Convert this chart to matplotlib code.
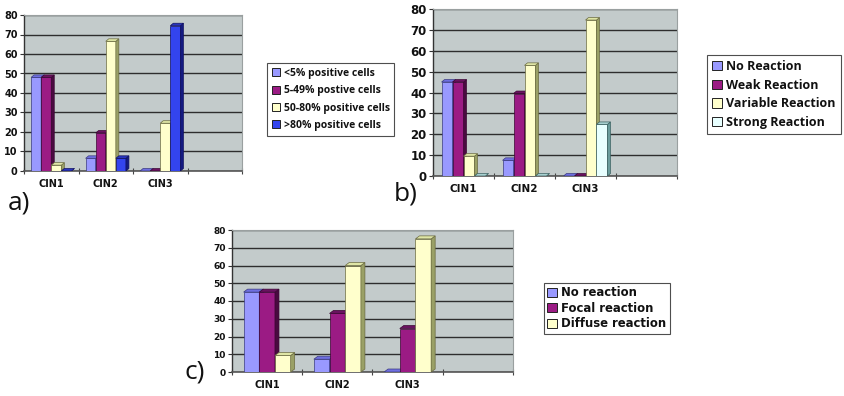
import matplotlib
matplotlib.use('Agg')
import matplotlib.pyplot as plt
from matplotlib.patches import Polygon, Rectangle, Patch

# ---------------- data ----------------
categories = ['CIN1', 'CIN2', 'CIN3']
y_ticks = [0, 10, 20, 30, 40, 50, 60, 70, 80]

a_labels = ['<5% positive cells', '5-49% postive cells', '50-80% positive cells', '>80% positive cells']
a_s1 = [48, 6.5, 0]
a_s2 = [48, 19.5, 0]
a_s3 = [3, 66.5, 24.5]
a_s4 = [0, 6.5, 74.5]

b_labels = ['No Reaction', 'Weak Reaction', 'Variable Reaction', 'Strong Reaction']
b_s1 = [45, 7.5, 0]
b_s2 = [45, 39.5, 0]
b_s3 = [9.5, 53, 74.7]
b_s4 = [0, 0, 24.7]

c_labels = ['No reaction', 'Focal reaction', 'Diffuse reaction']
c_s1 = [45, 7.2, 0]
c_s2 = [45, 33, 24.5]
c_s3 = [9.3, 60, 75]

# ---------------- styling ----------------
W, H = 845, 396
fig = plt.figure(figsize=(W / 100, H / 100), dpi=100)
fig.patch.set_facecolor('white')

WALL = '#c3cbcb'
# (front, side, top, edge)
C_PURPLE = ('#9999ff', '#6060b8', '#6f6fe0', '#3a3a80')
C_MAROON = ('#9b1b84', '#4a0a40', '#6a1260', '#3a0632')
C_YELLOW = ('#ffffcc', '#9aa066', '#dfe6a6', '#6a6a40')
C_BLUE = ('#3344ee', '#141a80', '#2a36c0', '#101060')
C_CYAN = ('#e8ffff', '#6a9c9c', '#a8d0d0', '#3a6060')


def panel(rect_px, series, colors, group_frac, dpx, dpy, tick_fs, cat_fs):
    L, T, R, B = rect_px
    ax = fig.add_axes([L / W, (H - B) / H, (R - L) / W, (B - T) / H])
    nslots = 4
    ax.set_xlim(0, nslots)
    ax.set_ylim(0, 80)
    ax.set_facecolor(WALL)
    xpp = nslots / (R - L)
    ypp = 80 / (B - T)
    dx, dy = dpx * xpp, dpy * ypp
    n = len(series)
    bw = group_frac / n
    z = 3.0
    for i in range(len(categories)):
        for s in range(n):
            h = series[s][i]
            fc, sc, tc, ec = colors[s]
            x0 = i + 0.5 - group_frac / 2 + s * bw
            ax.add_patch(Rectangle((x0, 0), bw, h, facecolor=fc, edgecolor=ec,
                                   lw=0.5, zorder=z))
            ax.add_patch(Polygon([(x0 + bw, 0), (x0 + bw + dx, dy),
                                  (x0 + bw + dx, h + dy), (x0 + bw, h)],
                                 closed=True, facecolor=sc, edgecolor=ec,
                                 lw=0.5, zorder=z))
            ax.add_patch(Polygon([(x0, h), (x0 + dx, h + dy),
                                  (x0 + bw + dx, h + dy), (x0 + bw, h)],
                                 closed=True, facecolor=tc, edgecolor=ec,
                                 lw=0.5, zorder=z))
            z += 0.01
    ax.set_yticks(y_ticks)
    ax.set_yticklabels([str(v) for v in y_ticks], fontsize=tick_fs,
                       fontweight='bold', family='DejaVu Sans', color='#111111')
    ax.grid(axis='y', color='#2e2e2e', lw=1.0, zorder=1)
    ax.set_axisbelow(True)
    ax.set_xticks(range(nslots + 1))
    ax.set_xticklabels([])
    ax.set_xticks([i + 0.5 for i in range(len(categories))], minor=True)
    ax.set_xticklabels(categories, minor=True, fontsize=cat_fs,
                       fontweight='bold', family='DejaVu Sans', color='#111111')
    ax.tick_params(axis='x', which='major', direction='inout', length=5,
                   width=0.8, color='#444444')
    ax.tick_params(axis='x', which='minor', length=0, pad=6)
    ax.tick_params(axis='y', direction='out', length=3, width=0.8,
                   color='#333333', pad=1.5)
    ax.spines['left'].set_color('#333333')
    ax.spines['left'].set_linewidth(1.0)
    ax.spines['bottom'].set_color('#555555')
    ax.spines['bottom'].set_linewidth(1.2)
    for sp in ('top', 'right'):
        ax.spines[sp].set_color('#9aa0a0')
        ax.spines[sp].set_linewidth(0.8)
    return ax


def legend(labels, colors, anchor_px, fs, family, spacing, bpad=0.5):
    handles = [Patch(facecolor=c[0], edgecolor='#222222', lw=0.7) for c in colors]
    lg = fig.legend(handles, labels, loc='upper left',
                    bbox_to_anchor=(anchor_px[0] / W, 1 - anchor_px[1] / H),
                    bbox_transform=fig.transFigure, borderaxespad=0,
                    frameon=True, fancybox=False, shadow=False,
                    prop={'size': fs, 'weight': 'bold', 'family': family},
                    handlelength=0.8, handleheight=0.8, handletextpad=0.35,
                    labelspacing=spacing, borderpad=bpad)
    fr = lg.get_frame()
    fr.set_edgecolor('#222222')
    fr.set_linewidth(0.8)
    for t in lg.get_texts():
        t.set_color('#111111')
    return lg


# panel a
panel((24, 15, 242, 171), [a_s1, a_s2, a_s3, a_s4],
      [C_PURPLE, C_MAROON, C_YELLOW, C_BLUE], 0.74, 3, 2.5, 7, 7)
legend(a_labels, [C_PURPLE, C_MAROON, C_YELLOW, C_BLUE], (267, 63), 7.5,
       'Open Sans', 0.62, 0.45)

# panel b
panel((433, 9, 677, 176), [b_s1, b_s2, b_s3, b_s4],
      [C_PURPLE, C_MAROON, C_YELLOW, C_CYAN], 0.72, 3, 2.5, 8.5, 7.5)
legend(b_labels, [C_PURPLE, C_MAROON, C_YELLOW, C_CYAN], (707, 55), 9,
       'Open Sans', 0.45, 0.4)

# panel c
panel((232, 230, 513, 372), [c_s1, c_s2, c_s3],
      [C_PURPLE, C_MAROON, C_YELLOW], 0.67, 4, 3, 6.5, 7)
legend(c_labels, [C_PURPLE, C_MAROON, C_YELLOW], (544, 283), 8.4,
       'DejaVu Sans', 0.2, 0.3)

# panel letters
for txt, (px, py) in [('a)', (19, 203)), ('b)', (406, 194)), ('c)', (195, 372))]:
    fig.text(px / W, 1 - py / H, txt, fontsize=19, family='Open Sans',
             ha='center', va='center', color='#111111')

fig.savefig('out.png', dpi=100, facecolor='white')
